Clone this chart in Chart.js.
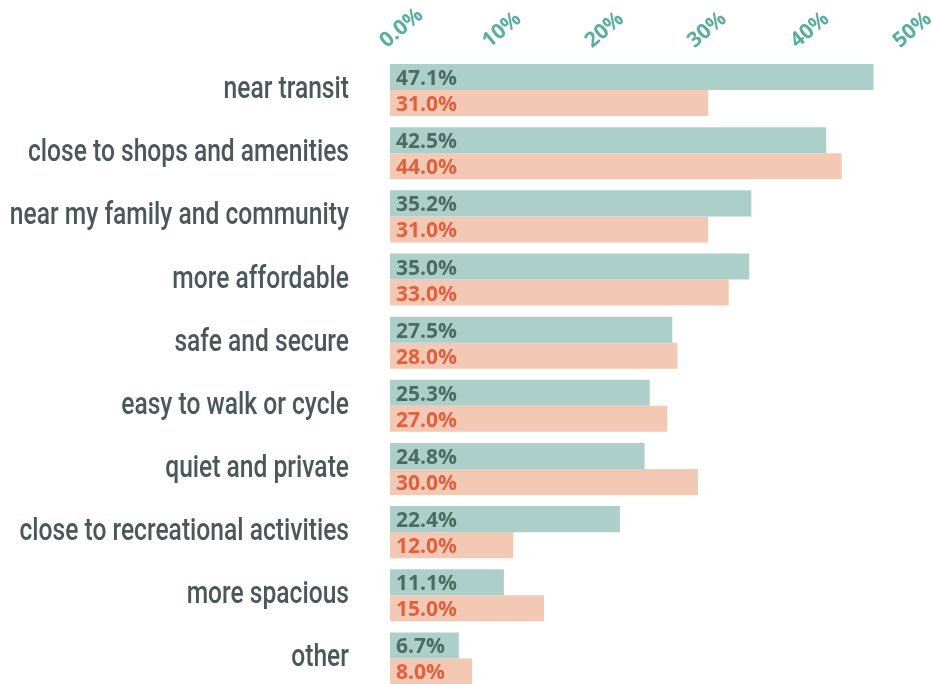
<!DOCTYPE html>
<html>
<head>
<meta charset="utf-8">
<script src="https://cdn.jsdelivr.net/npm/chart.js@4"></script>
<style>
  html, body { margin: 0; padding: 0; background: #fff; overflow: hidden; }
  #wrap { width: 932px; height: 690px; position: relative; }
</style>
</head>
<body>
<div id="wrap"><canvas id="chart"></canvas></div>
<script>
// ── Data ───────────────────────────────────────────────
const CATEGORIES = [
  'near transit',
  'close to shops and amenities',
  'near my family and community',
  'more affordable',
  'safe and secure',
  'easy to walk or cycle',
  'quiet and private',
  'close to recreational activities',
  'more spacious',
  'other'
];
const SERIES_A = [47.1, 42.5, 35.2, 35.0, 27.5, 25.3, 24.8, 22.4, 11.1, 6.7];
const SERIES_B = [31.0, 44.0, 31.0, 33.0, 28.0, 27.0, 30.0, 12.0, 15.0, 8.0];
const TICK_VALUES = [0, 10, 20, 30, 40, 50];

const TEAL_BAR    = '#acd0c9';
const TEAL_TEXT   = '#4a6c63';
const CORAL_BAR   = '#f3c8b5';
const CORAL_TEXT  = '#e0613d';
const TICK_COLOR  = '#5aada0';
const LABEL_COLOR = '#4c575a';

const LABEL_FONT = '500 32px Roboto, "Open Sans", sans-serif';
const VALUE_FONT = 'bold 21px "Open Sans", "DejaVu Sans", sans-serif';

// ── Category labels: condensed, right aligned left of the bars ──
const categoryLabels = {
  id: 'categoryLabels',
  afterDraw(chart) {
    const ctx = chart.ctx;
    const y = chart.scales.y;
    ctx.save();
    ctx.font = LABEL_FONT;
    // squeeze the face so the longest label fits like the reference's condensed type
    const sx = 321 / ctx.measureText('close to shops and amenities').width;
    ctx.fillStyle = LABEL_COLOR;
    ctx.textAlign = 'right';
    ctx.textBaseline = 'middle';
    CATEGORIES.forEach((label, i) => {
      ctx.save();
      ctx.translate(chart.chartArea.left - 41, y.getPixelForValue(i));
      ctx.scale(sx, 1);
      ctx.fillText(label, 0, 0);
      ctx.restore();
    });
    ctx.restore();
  }
};

// ── Value labels at the start of each bar ──────────────
const valueLabels = {
  id: 'valueLabels',
  afterDatasetsDraw(chart) {
    const ctx = chart.ctx;
    ctx.save();
    ctx.font = VALUE_FONT;
    ctx.textAlign = 'left';
    ctx.textBaseline = 'middle';
    chart.data.datasets.forEach((ds, di) => {
      chart.getDatasetMeta(di).data.forEach((bar, i) => {
        ctx.fillStyle = ds.labelColor;
        ctx.fillText(ds.data[i].toFixed(1) + '%', bar.base + 6, bar.y + 2);
      });
    });
    ctx.restore();
  }
};

const ctx = document.getElementById('chart').getContext('2d');
new Chart(ctx, {
  type: 'bar',
  data: {
    labels: CATEGORIES,
    datasets: [
      { data: SERIES_A, backgroundColor: TEAL_BAR, labelColor: TEAL_TEXT,
        barPercentage: 1.0, categoryPercentage: 0.824, borderWidth: 0 },
      { data: SERIES_B, backgroundColor: CORAL_BAR, labelColor: CORAL_TEXT,
        barPercentage: 1.0, categoryPercentage: 0.824, borderWidth: 0 }
    ]
  },
  options: {
    indexAxis: 'y',
    responsive: true,
    maintainAspectRatio: false,
    animation: false,
    layout: { padding: 0 },
    plugins: { legend: { display: false }, tooltip: { enabled: false } },
    scales: {
      x: {
        position: 'top',
        min: 0, max: 52.8,
        grid: { display: false, drawTicks: false },
        border: { display: false },
        afterBuildTicks: s => { s.ticks = TICK_VALUES.map(v => ({ value: v })); },
        afterFit: s => { s.height = 58.5; s.paddingLeft = 0; s.paddingRight = 0; },
        ticks: {
          minRotation: 40, maxRotation: 40,
          padding: 5,
          labelOffset: 9,
          color: TICK_COLOR,
          font: { family: '"Open Sans", "DejaVu Sans", sans-serif', size: 21, weight: 'bold' },
          callback: v => v === 0 ? '0.0%' : v + '%'
        }
      },
      y: {
        grid: { display: false, drawTicks: false },
        border: { display: false },
        ticks: { display: false },
        afterFit: s => { s.width = 390; s.paddingTop = 0; s.paddingBottom = 0; }
      }
    }
  },
  plugins: [valueLabels, categoryLabels]
});
</script>
</body>
</html>
